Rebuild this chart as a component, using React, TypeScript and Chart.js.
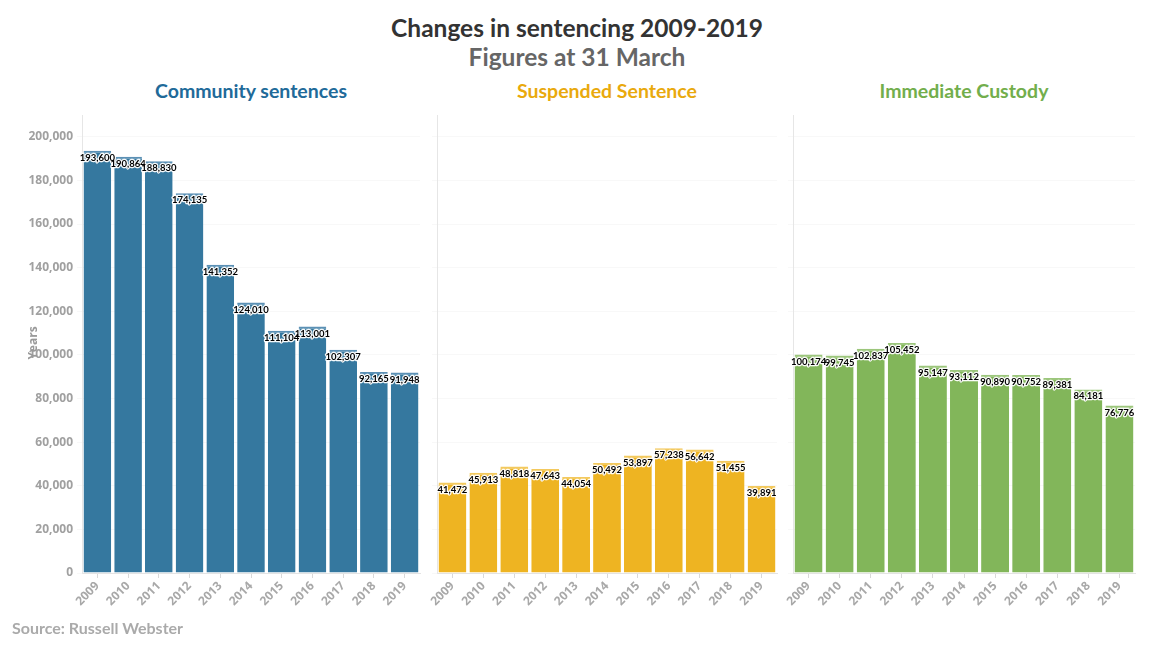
import React, { useEffect, useRef } from "react";
import { Chart, registerables } from "chart.js";
Chart.register(...registerables);

const years = ["2009","2010","2011","2012","2013","2014","2015","2016","2017","2018","2019"];
const community = [193600,190864,188830,174135,141352,124010,111104,113001,102307,92165,91948];
const suspended = [41472,45913,48818,47643,44054,50492,53897,57238,56642,51455,39891];
const custody = [100174,99745,102837,105452,95147,93112,90890,90752,89381,84181,76776];
const panelTitles = ["Community sentences","Suspended Sentence","Immediate Custody"];
const yTicks = [0,20000,40000,60000,80000,100000,120000,140000,160000,180000,200000];
const yMax = 210000;

const FONT = "Lato, 'Open Sans', sans-serif";
const TICKFONT = "'Open Sans', Lato, sans-serif";

const labelPlugin = {
  id: "barLabels",
  afterDatasetsDraw(chart: any) {
    const ctx = chart.ctx;
    const meta = chart.getDatasetMeta(0);
    const data = chart.data.datasets[0].data as number[];
    ctx.save();
    ctx.font = `bold 9.5px ${FONT}`;
    ctx.textAlign = "center";
    ctx.textBaseline = "middle";
    ctx.lineJoin = "round";
    ctx.strokeStyle = "rgba(255,255,255,0.95)";
    ctx.lineWidth = 2.5;
    meta.data.forEach((bar: any, i: number) => {
      ctx.strokeText(data[i].toLocaleString("en-US"), bar.x, bar.y + 7);
    });
    ctx.fillStyle = "#000";
    meta.data.forEach((bar: any, i: number) => {
      ctx.fillText(data[i].toLocaleString("en-US"), bar.x, bar.y + 7);
    });
    ctx.restore();
  },
};

type PanelProps = {
  values: number[];
  color: string;
  top: string;
  left: number;
  width: number;
  yWidth: number;
  showY: boolean;
};

function Panel({ values, color, top, left, width, yWidth, showY }: PanelProps) {
  const ref = useRef<HTMLCanvasElement>(null);
  useEffect(() => {
    if (!ref.current) return;
    const chart = new Chart(ref.current, {
      type: "bar",
      data: {
        labels: years,
        datasets: [
          {
            data: values,
            backgroundColor: color,
            borderColor: top,
            borderWidth: { top: 2, left: 0, right: 0, bottom: 0 },
            borderSkipped: "bottom",
            barPercentage: 0.9,
            categoryPercentage: 1,
          },
        ],
      },
      options: {
        responsive: false,
        animation: false,
        devicePixelRatio: 1,
        layout: { padding: { top: 15, right: 5, left: 0, bottom: 0 } },
        plugins: { legend: { display: false }, tooltip: { enabled: false }, title: { display: false } },
        scales: {
          x: {
            grid: { drawOnChartArea: false, drawTicks: true, tickLength: 5, color: "#d9d9d9", offset: false },
            border: { display: true, color: "#e3e3e3" },
            ticks: {
              maxRotation: 45,
              minRotation: 45,
              padding: 1,
              color: "#a8a8a8",
              font: { family: TICKFONT, size: 12, weight: "bold" },
            },
            afterFit: (s: any) => { s.height = 72; },
          },
          y: {
            min: 0,
            max: yMax,
            grid: { color: "#f8f8f8", tickLength: 5, drawTicks: true },
            border: { display: true, color: "#e6e6e6" },
            ticks: {
              display: showY,
              padding: 4,
              color: "#a0a0a0",
              font: { family: TICKFONT, size: 12, weight: "bold" },
              callback: (v: any) => Number(v).toLocaleString("en-US"),
            },
            afterBuildTicks: (s: any) => { s.ticks = yTicks.map((v) => ({ value: v })); },
            afterFit: (s: any) => { s.width = yWidth; },
          },
        },
      },
      plugins: [labelPlugin],
    });
    return () => chart.destroy();
  }, []);
  return (
    <canvas
      ref={ref}
      width={width}
      height={545}
      style={{ position: "absolute", left, top: 100, width, height: 545 }}
    />
  );
}

export default function App() {
  const titleStyle = (cx: number, color: string): React.CSSProperties => ({
    position: "absolute",
    left: cx - 200,
    width: 400,
    top: 79,
    textAlign: "center",
    fontFamily: FONT,
    fontWeight: 700,
    fontSize: 19.5,
    color,
    lineHeight: "24px",
  });
  return (
    <div style={{ position: "absolute", left: 0, top: 0, width: 1154, height: 650, background: "#fff", fontFamily: FONT }}>
      <div style={{ position: "absolute", left: 0, width: 1154, top: 13, textAlign: "center", fontWeight: 700, fontSize: 24.5, color: "#333", lineHeight: "30px" }}>
        Changes in sentencing 2009-2019
      </div>
      <div style={{ position: "absolute", left: 0, width: 1154, top: 42, textAlign: "center", fontWeight: 700, fontSize: 24.5, color: "#666", lineHeight: "30px" }}>
        Figures at 31 March
      </div>
      <div style={titleStyle(251, "#216a99")}>{panelTitles[0]}</div>
      <div style={titleStyle(607, "#e9a90d")}>{panelTitles[1]}</div>
      <div style={titleStyle(964, "#72ae4c")}>{panelTitles[2]}</div>
      <Panel values={community} color="#35789f" top="#5b90b5" left={0} width={425} yWidth={82} showY={true} />
      <Panel values={suspended} color="#eeb422" top="#f3c95e" left={400} width={382} yWidth={37} showY={false} />
      <Panel values={custody} color="#82b65a" top="#9cc67c" left={756} width={384} yWidth={37} showY={false} />
      <div style={{ position: "absolute", left: 33 - 30, top: 343 - 8, width: 60, height: 16, textAlign: "center", transform: "rotate(-90deg)", fontFamily: TICKFONT, fontWeight: 700, fontSize: 12, color: "#999", lineHeight: "16px" }}>
        Years
      </div>
      <div style={{ position: "absolute", left: 12, top: 618, fontWeight: 700, fontSize: 16, color: "#aaa", lineHeight: "20px" }}>
        Source: Russell Webster
      </div>
    </div>
  );
}
